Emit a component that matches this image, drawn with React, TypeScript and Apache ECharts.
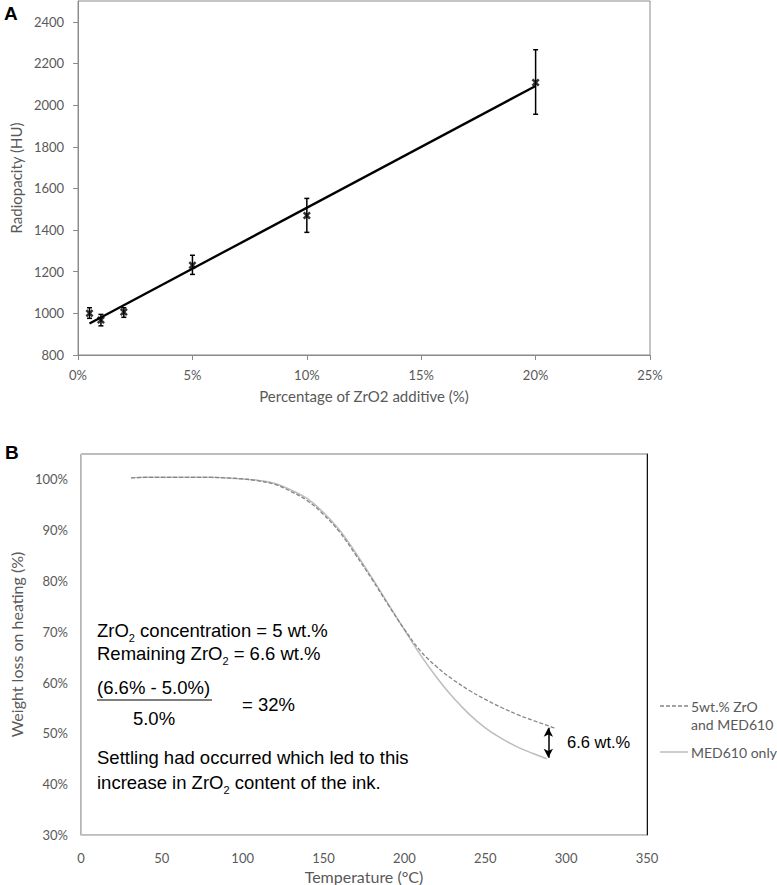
import React, { useEffect, useRef } from 'react';
import * as echarts from 'echarts';

// Panel A: radiopacity vs ZrO2 additive
const zrPercent = [0.5, 1, 2, 5, 10, 20];
const radiopacity = [1000, 968, 1007, 1231, 1470, 2109];
const errLow = [976, 940, 981, 1187, 1389, 1956];
const errHigh = [1027, 995, 1027, 1279, 1552, 2266];

// Panel B: TGA curves
const tempSolid = [31, 40, 50, 60, 70, 80, 90, 100, 110, 120, 130, 140, 150, 160, 170, 180, 190, 200, 210, 220, 230, 240, 250, 260, 270, 280, 288];
const medOnly = [1.003, 1.004, 1.004, 1.004, 1.004, 1.004, 1.003, 1.001, 0.998, 0.992, 0.979, 0.962, 0.935, 0.900, 0.855, 0.806, 0.755, 0.704, 0.654, 0.610, 0.571, 0.538, 0.511, 0.490, 0.473, 0.460, 0.450];
const tempDashed = [31, 40, 50, 60, 70, 80, 90, 100, 110, 120, 130, 140, 150, 160, 170, 180, 190, 200, 210, 220, 230, 240, 250, 260, 270, 280, 290, 294];
const zrMed = [1.003, 1.004, 1.004, 1.004, 1.004, 1.004, 1.003, 1.001, 0.997, 0.990, 0.976, 0.958, 0.931, 0.896, 0.851, 0.803, 0.753, 0.705, 0.662, 0.631, 0.606, 0.585, 0.567, 0.551, 0.537, 0.525, 0.514, 0.509];
const arrowTemp = 289;
const arrowTop = 0.511;
const arrowBottom = 0.452;

const AXIS_FONT = 'Lato, "Open Sans", sans-serif';
const ARIAL = '"Liberation Sans", Arial, sans-serif';
const LABEL_COLOR = '#595959';

export default function App() {
  const ref = useRef<HTMLDivElement>(null);
  useEffect(() => {
    document.body.style.margin = '0';
    const chart = echarts.init(ref.current!, null, { renderer: 'svg' });

    // linear trend line (least squares) through panel A data
    const n = zrPercent.length;
    const mx = zrPercent.reduce((a, b) => a + b, 0) / n;
    const my = radiopacity.reduce((a, b) => a + b, 0) / n;
    let sxy = 0, sxx = 0;
    for (let i = 0; i < n; i++) {
      sxy += (zrPercent[i] - mx) * (radiopacity[i] - my);
      sxx += (zrPercent[i] - mx) ** 2;
    }
    const slope = sxy / sxx;
    const icpt = my - slope * mx;
    const xMin = Math.min(...zrPercent), xMax = Math.max(...zrPercent);
    const trend = [[xMin, icpt + slope * xMin], [xMax, icpt + slope * xMax]];

    const xShape = 'path://M0,2.2 L2.2,0 L5,2.8 L7.8,0 L10,2.2 L7.2,5 L10,7.8 L7.8,10 L5,7.2 L2.2,10 L0,7.8 L2.8,5 Z';

    const richBase = {
      n: { fontFamily: ARIAL, fontSize: 18.5, color: '#000', lineHeight: 26, verticalAlign: 'middle' },
      s: { fontFamily: ARIAL, fontSize: 11, color: '#000', lineHeight: 11, verticalAlign: 'bottom' },
    };
    const annot = (x: number, y: number, text: string, align = 'left') => ({
      type: 'text', x, y,
      style: { text, rich: richBase, textAlign: align, textVerticalAlign: 'middle', fontFamily: ARIAL, fontSize: 18.5, fill: '#000' },
    });

    const option: any = {
      animation: false,
      grid: [
        { left: 69, top: 1, width: 581, height: 354, show: true, borderColor: '#8a8a8a', borderWidth: 1 },
        { left: 68, top: 454, width: 579, height: 382, show: true, borderColor: '#7a7a7a', borderWidth: 1 },
      ],
      xAxis: [
        {
          gridIndex: 0, type: 'value', min: 0, max: 25, interval: 5,
          axisLine: { lineStyle: { color: '#8a8a8a' } },
          axisTick: { show: true, length: 5, lineStyle: { color: '#8a8a8a' } },
          splitLine: { show: false },
          axisLabel: { formatter: (v: number) => v + '%', fontFamily: AXIS_FONT, fontSize: 13, color: LABEL_COLOR, margin: 13 },
          name: 'Percentage of ZrO2 additive (%)', nameLocation: 'middle', nameGap: 33,
          nameTextStyle: { fontFamily: AXIS_FONT, fontSize: 15, color: LABEL_COLOR },
        },
        {
          gridIndex: 1, type: 'value', min: 0, max: 350, interval: 50,
          axisLine: { lineStyle: { color: '#c8c8c8' } },
          axisTick: { show: false },
          splitLine: { show: false },
          axisLabel: { fontFamily: AXIS_FONT, fontSize: 13, color: LABEL_COLOR, margin: 16 },
          name: 'Temperature (°C)', nameLocation: 'middle', nameGap: 33,
          nameTextStyle: { fontFamily: AXIS_FONT, fontSize: 16, color: LABEL_COLOR },
        },
      ],
      yAxis: [
        {
          gridIndex: 0, type: 'value', min: 800, max: 2500, interval: 200,
          axisLine: { show: true, lineStyle: { color: '#8a8a8a' } },
          axisTick: { show: true, length: 5, lineStyle: { color: '#8a8a8a' } },
          splitLine: { show: false },
          axisLabel: {
            showMaxLabel: false, fontFamily: AXIS_FONT, fontSize: 13, color: LABEL_COLOR, margin: 14,
            formatter: (v: number) => String(v),
          },
          name: 'Radiopacity (HU)', nameLocation: 'middle', nameGap: 52,
          nameTextStyle: { fontFamily: AXIS_FONT, fontSize: 15, color: LABEL_COLOR },
        },
        {
          gridIndex: 1, type: 'value', min: 0.3, max: 1.05, interval: 0.1,
          axisLine: { show: true, lineStyle: { color: '#c8c8c8' } },
          axisTick: { show: false },
          splitLine: { show: false },
          axisLabel: {
            showMaxLabel: false, fontFamily: AXIS_FONT, fontSize: 13, color: LABEL_COLOR, margin: 13,
            formatter: (v: number) => Math.round(v * 100) + '%',
          },
          name: 'Weight loss on heating (%)', nameLocation: 'middle', nameGap: 45,
          nameTextStyle: { fontFamily: AXIS_FONT, fontSize: 16, color: LABEL_COLOR },
        },
        {
          gridIndex: 1, type: 'value', min: 0.3, max: 1.05, position: 'right',
          axisLine: { show: true, lineStyle: { color: '#111', width: 1 } },
          axisTick: { show: false }, axisLabel: { show: false }, splitLine: { show: false },
        },
      ],
      series: [
        {
          type: 'line', xAxisIndex: 0, yAxisIndex: 0, data: trend, showSymbol: false, symbol: 'none',
          lineStyle: { color: '#000', width: 2.3 }, z: 2,
        },
        {
          type: 'custom', xAxisIndex: 0, yAxisIndex: 0,
          data: zrPercent.map((x, i) => [x, errLow[i], errHigh[i]]),
          encode: { x: 0, y: [1, 2] },
          renderItem: (params: any, api: any) => {
            const x = api.value(0);
            const lo = api.coord([x, api.value(1)]);
            const hi = api.coord([x, api.value(2)]);
            const w = 2.5;
            const st = { stroke: '#000', lineWidth: 1.5 };
            return {
              type: 'group',
              children: [
                { type: 'line', shape: { x1: lo[0], y1: lo[1], x2: hi[0], y2: hi[1] }, style: st },
                { type: 'line', shape: { x1: lo[0] - w, y1: lo[1], x2: lo[0] + w, y2: lo[1] }, style: st },
                { type: 'line', shape: { x1: hi[0] - w, y1: hi[1], x2: hi[0] + w, y2: hi[1] }, style: st },
              ],
            };
          },
          z: 3,
        },
        {
          type: 'scatter', xAxisIndex: 0, yAxisIndex: 0,
          data: zrPercent.map((x, i) => [x, radiopacity[i]]),
          symbol: xShape, symbolSize: 8, itemStyle: { color: '#000' }, z: 4,
        },
        {
          name: 'MED610 only', type: 'line', xAxisIndex: 1, yAxisIndex: 1,
          data: tempSolid.map((t, i) => [t, medOnly[i]]),
          smooth: 0.4, showSymbol: false, symbol: 'none',
          lineStyle: { color: '#bdbdbd', width: 1.5 },
        },
        {
          name: '5wt.% ZrO and MED610', type: 'line', xAxisIndex: 1, yAxisIndex: 1,
          data: tempDashed.map((t, i) => [t, zrMed[i]]),
          smooth: 0.4, showSymbol: false, symbol: 'none',
          lineStyle: { color: '#858585', width: 1.3, type: [4, 2] },
          markLine: {
            silent: true, symbol: ['arrow', 'arrow'], symbolSize: [7, 9],
            label: { show: false },
            lineStyle: { color: '#000', width: 1.5, type: 'solid' },
            data: [[{ coord: [arrowTemp, arrowTop] }, { coord: [arrowTemp, arrowBottom] }]],
          },
        },
      ],
      graphic: [
        { type: 'text', x: 4, y: 13, style: { text: 'A', fontFamily: ARIAL, fontWeight: 'bold', fontSize: 19, fill: '#000', textVerticalAlign: 'middle' } },
        { type: 'text', x: 5, y: 452, style: { text: 'B', fontFamily: ARIAL, fontWeight: 'bold', fontSize: 19, fill: '#000', textVerticalAlign: 'middle' } },
        annot(97, 630, '{n|ZrO}{s|2}{n| concentration = 5 wt.%}'),
        annot(97, 653, '{n|Remaining ZrO}{s|2}{n| = 6.6 wt.%}'),
        annot(97, 687, '{n|(6.6% - 5.0%)}'),
        { type: 'line', shape: { x1: 97, y1: 700, x2: 212, y2: 700 }, style: { stroke: '#000', lineWidth: 1.2 } },
        annot(154, 718, '{n|5.0%}', 'center'),
        annot(242, 704, '{n|= 32%}'),
        annot(97, 757, '{n|Settling had occurred which led to this}'),
        annot(97, 782, '{n|increase in ZrO}{s|2}{n| content of the ink.}'),
        { type: 'text', x: 567, y: 742, style: { text: '6.6 wt.%', fontFamily: ARIAL, fontSize: 16.5, fill: '#000', textVerticalAlign: 'middle' } },
        // legend
        { type: 'line', shape: { x1: 660, y1: 706, x2: 688, y2: 706 }, style: { stroke: '#858585', lineWidth: 1.3, lineDash: [4, 2] } },
        { type: 'text', x: 691, y: 706, style: { text: '5wt.% ZrO', fontFamily: AXIS_FONT, fontSize: 14, fill: LABEL_COLOR, textVerticalAlign: 'middle' } },
        { type: 'text', x: 691, y: 724, style: { text: 'and MED610', fontFamily: AXIS_FONT, fontSize: 14, fill: LABEL_COLOR, textVerticalAlign: 'middle' } },
        { type: 'line', shape: { x1: 660, y1: 752, x2: 688, y2: 752 }, style: { stroke: '#bdbdbd', lineWidth: 1.5 } },
        { type: 'text', x: 691, y: 752, style: { text: 'MED610 only', fontFamily: AXIS_FONT, fontSize: 14, fill: LABEL_COLOR, textVerticalAlign: 'middle' } },
      ],
    };
    chart.setOption(option);
    return () => chart.dispose();
  }, []);
  return <div ref={ref} style={{ width: 777, height: 885 }} />;
}
